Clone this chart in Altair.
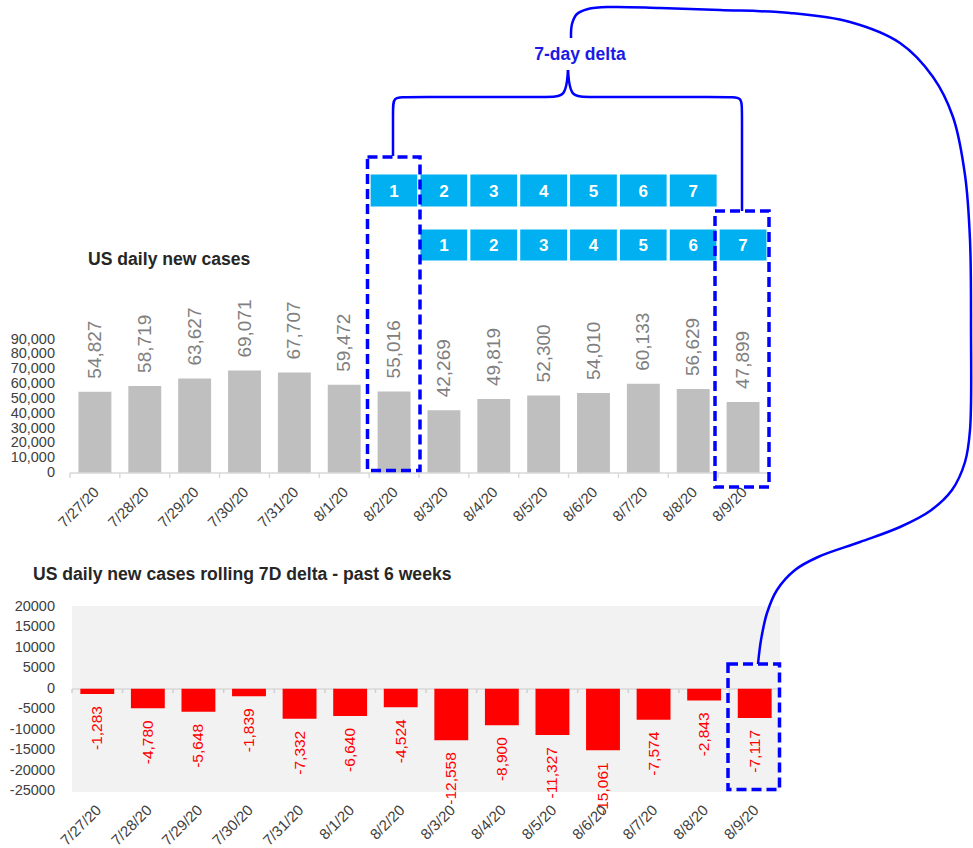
import altair as alt
import pandas as pd

# ---- values -------------------------------------------------------------
dates = ["7/27/20", "7/28/20", "7/29/20", "7/30/20", "7/31/20", "8/1/20", "8/2/20",
         "8/3/20", "8/4/20", "8/5/20", "8/6/20", "8/7/20", "8/8/20", "8/9/20"]
new_cases = [54827, 58719, 63627, 69071, 67707, 59472, 55016,
             42269, 49819, 52300, 54010, 60133, 56629, 47899]
delta_7d = [-1283, -4780, -5648, -1839, -7332, -6640, -4524,
            -12558, -8900, -11327, -15061, -7574, -2843, -7117]
cases_ticks = [0, 10000, 20000, 30000, 40000, 50000, 60000, 70000, 80000, 90000]
delta_ticks = [-25000, -20000, -15000, -10000, -5000, 0, 5000, 10000, 15000, 20000]
window_labels = ["1", "2", "3", "4", "5", "6", "7"]
window_prev = dates[6:13]   # 8/2 .. 8/8
window_curr = dates[7:14]   # 8/3 .. 8/9

FONT = "Liberation Sans, Arial, Helvetica, sans-serif"
BLUE = "#0000ff"

df = pd.DataFrame({
    "date": dates,
    "cases": new_cases,
    "cases_label": [f"{v:,}" for v in new_cases],
    "delta": delta_7d,
    "delta_label": [f"{v:,}" for v in delta_7d],
})
cases_axis = pd.DataFrame({"v": cases_ticks, "t": [f"{v:,}" for v in cases_ticks]})
delta_axis = pd.DataFrame({"v": delta_ticks, "t": [str(v) for v in delta_ticks]})
prev_cells = pd.DataFrame({"date": window_prev, "n": window_labels})
curr_cells = pd.DataFrame({"date": window_curr, "n": window_labels})
one = pd.DataFrame([{"k": 0}])

# ---- scales (pixel ranges place both panels on one canvas) --------------
def band(lo, hi, inner):
    return alt.Scale(type="band", domain=dates, range=[lo, hi],
                     paddingInner=inner, paddingOuter=inner / 2)

top_bar_x = band(70, 768, 0.34)
top_full_x = band(70, 768, 0.0)
top_y = alt.Scale(domain=[0, 90000], range=[473, 339.5], nice=False, zero=False)

bot_bar_x = band(72, 780, 0.33)
bot_full_x = band(72, 780, 0.0)
bot_y = alt.Scale(domain=[-25000, 20000], range=[791, 607], nice=False, zero=False)

px_x = alt.Scale(domain=[0, 973], range=[0, 973], nice=False, zero=False)
px_y = alt.Scale(domain=[0, 848], range=[0, 848], nice=False, zero=False)


def text_at(msg, x, y, size, color, align="left", weight="bold"):
    return alt.Chart(one).mark_text(
        align=align, baseline="middle", font=FONT, fontSize=size,
        fontWeight=weight, color=color
    ).encode(x=alt.value(x), y=alt.value(y), text=alt.value(msg))


def dashed_box(x0, x1, y0, y1):
    return alt.Chart(one).mark_rect(
        fillOpacity=0, stroke=BLUE, strokeWidth=3.5, strokeDash=[10, 5]
    ).encode(x=alt.value(x0), x2=alt.value(x1), y=alt.value(y0), y2=alt.value(y1))


layers = []

# ---- top panel: US daily new cases --------------------------------------
layers.append(text_at("US daily new cases", 88, 260, 17.6, "#262626"))

layers.append(alt.Chart(df).mark_bar(color="#bfbfbf").encode(
    x=alt.X("date:N", scale=top_bar_x, axis=None, sort=None),
    y=alt.Y("cases:Q", scale=top_y, axis=None),
    y2=alt.datum(0),
))
layers.append(alt.Chart(df).mark_text(
    angle=270, align="left", baseline="middle", dx=13,
    font=FONT, fontSize=19, color="#808080"
).encode(
    x=alt.X("date:N", scale=top_bar_x, axis=None, sort=None),
    y=alt.Y("cases:Q", scale=top_y, axis=None),
    text="cases_label:N",
))
layers.append(alt.Chart(one).mark_rule(color="#d9d9d9", strokeWidth=1.5).encode(
    x=alt.value(70), x2=alt.value(768), y=alt.value(473)))
layers.append(alt.Chart(df).mark_rule(color="#d9d9d9", strokeWidth=1.5).encode(
    x=alt.X("date:N", scale=top_full_x, axis=None, sort=None, bandPosition=0),
    y=alt.value(473), y2=alt.value(478)))
layers.append(alt.Chart(cases_axis).mark_text(
    align="right", baseline="middle", font=FONT, fontSize=14.5, color="#404040"
).encode(
    x=alt.value(55),
    y=alt.Y("v:Q", scale=top_y, axis=None),
    text="t:N",
))
layers.append(alt.Chart(df).mark_text(
    angle=315, align="right", baseline="middle", dx=2,
    font=FONT, fontSize=15, color="#404040"
).encode(
    x=alt.X("date:N", scale=top_bar_x, axis=None, sort=None),
    y=alt.value(491),
    text="date:N",
))

# ---- rolling window cells ------------------------------------------------
for cells, y0, y1 in [(prev_cells, 173, 208), (curr_cells, 228, 262)]:
    layers.append(alt.Chart(cells).mark_rect(
        color="#00b0f0", stroke="white", strokeWidth=3
    ).encode(
        x=alt.X("date:N", scale=top_full_x, axis=None, sort=None),
        y=alt.value(y0), y2=alt.value(y1),
    ))
    layers.append(alt.Chart(cells).mark_text(
        align="center", baseline="middle", font=FONT, fontSize=17,
        fontWeight="bold", color="white"
    ).encode(
        x=alt.X("date:N", scale=top_full_x, axis=None, sort=None),
        y=alt.value((y0 + y1) / 2 + 1),
        text="n:N",
    ))

# ---- bottom panel: rolling 7-day delta ----------------------------------
layers.append(text_at("US daily new cases rolling 7D delta - past 6 weeks",
                      33, 575, 17.6, "#262626"))
layers.append(alt.Chart(one).mark_rect(color="#f2f2f2").encode(
    x=alt.value(72), x2=alt.value(780), y=alt.value(606), y2=alt.value(792)))
layers.append(alt.Chart(one).mark_rule(color="#d9d9d9", strokeWidth=1.5).encode(
    x=alt.value(72), x2=alt.value(780), y=alt.value(689)))
layers.append(alt.Chart(df).mark_rule(color="#d0d0d0", strokeWidth=1.5).encode(
    x=alt.X("date:N", scale=bot_full_x, axis=None, sort=None, bandPosition=0),
    y=alt.value(689), y2=alt.value(693)))
layers.append(alt.Chart(df).mark_bar(color="#ff0000").encode(
    x=alt.X("date:N", scale=bot_bar_x, axis=None, sort=None),
    y=alt.Y("delta:Q", scale=bot_y, axis=None),
    y2=alt.datum(0),
))
layers.append(alt.Chart(df).mark_text(
    angle=270, align="right", baseline="middle", dx=-12,
    font=FONT, fontSize=15.5, color="#ff0000"
).encode(
    x=alt.X("date:N", scale=bot_bar_x, axis=None, sort=None),
    y=alt.Y("delta:Q", scale=bot_y, axis=None),
    text="delta_label:N",
))
layers.append(alt.Chart(delta_axis).mark_text(
    align="right", baseline="middle", font=FONT, fontSize=14.5, color="#404040"
).encode(
    x=alt.value(55),
    y=alt.Y("v:Q", scale=bot_y, axis=None),
    text="t:N",
))
layers.append(alt.Chart(df).mark_text(
    angle=315, align="right", baseline="middle", dx=2,
    font=FONT, fontSize=15, color="#404040"
).encode(
    x=alt.X("date:N", scale=bot_bar_x, axis=None, sort=None),
    y=alt.value(809),
    text="date:N",
))

# ---- annotation: highlighted days, brace and connector ------------------
layers.append(dashed_box(367.5, 420, 157, 470.5))
layers.append(dashed_box(715, 769, 211, 487))
layers.append(dashed_box(728, 779.5, 664, 789.5))

brace_pts = [
    ("L", 393, 156), ("L", 393, 110), ("L", 393, 97), ("L", 406, 97),
    ("L", 550, 97), ("L", 566, 97), ("L", 568, 70),
    ("R", 568, 70), ("R", 570, 97), ("R", 586, 97), ("R", 729, 97),
    ("R", 742, 97), ("R", 742, 110), ("R", 742, 211),
]
brace = pd.DataFrame([{"seg": s, "i": i, "x": x, "y": y}
                      for i, (s, x, y) in enumerate(brace_pts)])
layers.append(alt.Chart(brace).mark_line(
    color=BLUE, strokeWidth=2.5, interpolate="basis"
).encode(
    x=alt.X("x:Q", scale=px_x, axis=None),
    y=alt.Y("y:Q", scale=px_y, axis=None),
    detail="seg:N",
    order="i:Q",
))

connector_pts = [
    (571, 38), (572, 24), (577, 14), (588, 9), (610, 7), (660, 8), (720, 10),
    (790, 13), (850, 22), (900, 43), (933, 77), (953, 117), (965, 175),
    (970, 240), (971, 330), (970, 430), (965, 462), (952, 490), (930, 511),
    (900, 527), (860, 542), (818, 557), (795, 570), (777, 590), (767, 613),
    (761, 640), (758, 664),
]
connector = pd.DataFrame([{"i": i, "x": x, "y": y}
                          for i, (x, y) in enumerate(connector_pts)])
layers.append(alt.Chart(connector).mark_line(
    color=BLUE, strokeWidth=2.5, interpolate="catmull-rom"
).encode(
    x=alt.X("x:Q", scale=px_x, axis=None),
    y=alt.Y("y:Q", scale=px_y, axis=None),
    order="i:Q",
))

layers.append(text_at("7-day delta", 580, 55, 17.5, "#1a1ae6", align="center"))

chart = alt.layer(*layers).resolve_scale(
    x="independent", y="independent"
).properties(
    width=973, height=848, padding=0,
    autosize=alt.AutoSizeParams(type="none"),
).configure_view(strokeWidth=0)

chart.save("out.html", embed_options={"renderer": "svg", "actions": False})
